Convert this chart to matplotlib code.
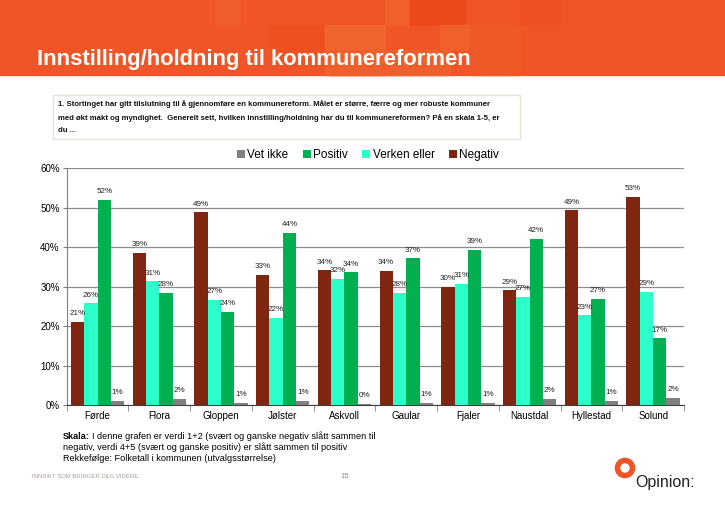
import matplotlib.pyplot as plt
import matplotlib.patches as mpatches
import numpy as np

# Données
kommuner = ["Førde", "Flora", "Gloppen", "Jølster", "Askvoll",
            "Gaular", "Fjaler", "Naustdal", "Hyllestad", "Solund"]
negativ = [21.0, 38.6, 48.8, 33.0, 34.1, 34.0, 30.0, 29.0, 49.3, 52.6]
verken = [25.7, 31.3, 26.7, 22.1, 32.0, 28.4, 30.6, 27.3, 22.7, 28.7]
positiv = [52.0, 28.4, 23.6, 43.6, 33.6, 37.1, 39.3, 42.1, 26.8, 16.9]
vet_ikke = [1.1, 1.6, 0.6, 1.1, 0.3, 0.6, 0.6, 1.6, 1.1, 1.8]
yticks = [0, 10, 20, 30, 40, 50, 60]

W, H = 725, 505
ORANGE = "#EF5526"


def fx(x):
    return x / W


def fy(y):
    return 1 - y / H


fig = plt.figure(figsize=(7.25, 5.05), dpi=100)
plt.rcParams['font.family'] = ['Liberation Sans', 'DejaVu Sans']

# Bandeau orange en haut
fig.patches.append(mpatches.Rectangle((0, fy(75)), 1, 75 / H, transform=fig.transFigure,
                                      color=ORANGE, zorder=0))
# quelques carrés décoratifs, discrets
carres = [(215, 0, 25, 25, "#F05D2C"), (270, 25, 55, 25, "#EE5022"), (325, 25, 60, 50, "#F1632F"),
          (385, 0, 30, 25, "#F1602C"), (410, 0, 55, 25, "#EC4A1D"), (440, 25, 30, 25, "#F0602B"),
          (470, 25, 50, 50, "#EF5928"), (520, 0, 40, 25, "#EE5224"), (330, 50, 120, 25, "#F0602C")]
for x0, y0, w, h, c in carres:
    fig.patches.append(mpatches.Rectangle((fx(x0), fy(y0 + h)), w / W, h / H,
                                          transform=fig.transFigure, color=c, zorder=0))

fig.text(fx(37), fy(60), "Innstilling/holdning til kommunereformen", color="white",
         fontsize=15.8, fontweight="bold", va="center", ha="left")

# Boîte de la question
fig.patches.append(mpatches.Rectangle((fx(53), fy(139)), (520 - 53) / W, (139 - 95) / H,
                                      transform=fig.transFigure, fill=False,
                                      edgecolor="#E3E3DA", lw=1))
question = ("1. Stortinget har gitt tilslutning til å gjennomføre en kommunereform. Målet er større, færre og mer robuste kommuner\n"
            "med økt makt og myndighet.  Generelt sett, hvilken innstilling/holdning har du til kommunereformen? På en skala 1-5, er\n"
            "du ...")
fig.text(fx(58), fy(100), question, fontsize=5.6, fontweight="bold", va="top", ha="left",
         linespacing=2.0, color="#111111")

# Graphique
ax = fig.add_axes([fx(66.7), fy(405), (684 - 66.7) / W, (405 - 168) / H])
x = np.arange(len(kommuner))
bw = 0.216
series = [(negativ, "Negativ", "#7F2610"),
          (verken, "Verken eller", "#2CFFCA"),
          (positiv, "Positiv", "#00B050"),
          (vet_ikke, "Vet ikke", "#808080")]
handles = {}
for i, (vals, nom, col) in enumerate(series):
    pos = x - 1.5 * bw + i * bw
    b = ax.bar(pos, vals, width=bw, color=col, label=nom, zorder=3)
    handles[nom] = b
    for p, v in zip(pos, vals):
        ax.text(p, v + 1.2, f"{v:.0f}%", ha="center", va="bottom", fontsize=5.8,
                color="#222222", zorder=4)

ax.set_xlim(-0.5, len(kommuner) - 0.5)
ax.set_ylim(0, 60)
ax.set_yticks(yticks)
ax.set_yticklabels([f"{t}%" for t in yticks], fontsize=7)
ax.set_xticks(x)
ax.set_xticklabels(kommuner, fontsize=7)
ax.tick_params(axis="x", length=0, pad=4)
ax.set_xticks(np.arange(-0.5, len(kommuner)), minor=True)
ax.tick_params(axis="x", which="minor", length=4, color="#808080", direction="out")
ax.tick_params(axis="y", length=3, color="#808080", pad=2)
ax.yaxis.grid(True, color="#8C8C8C", lw=0.9, zorder=0)
for s in ["top", "right"]:
    ax.spines[s].set_visible(False)
ax.spines["left"].set_color("#808080")
ax.spines["bottom"].set_color("#404040")

ordre = ["Vet ikke", "Positiv", "Verken eller", "Negativ"]
fig.legend([handles[n] for n in ordre], ordre, loc="center", ncol=4,
           bbox_to_anchor=(fx(368), fy(155)), frameon=False, fontsize=8.5,
           handlelength=0.7, handleheight=0.7, handletextpad=0.2, columnspacing=1.2)

# Notes du bas
t_skala = fig.text(fx(63), fy(439), "Skala:", fontsize=6.6, fontweight="bold", va="baseline")
renderer = fig.canvas.get_renderer()
x_fin = t_skala.get_window_extent(renderer).x1 / fig.bbox.width
fig.text(x_fin + 2 / W, fy(439), "I denne grafen er verdi 1+2 (svært og ganske negativ slått sammen til",
         fontsize=6.6, va="baseline")
fig.text(fx(63), fy(450), "negativ, verdi 4+5 (svært og ganske positiv) er slått sammen til positiv",
         fontsize=6.6, va="baseline")
fig.text(fx(63), fy(461), "Rekkefølge: Folketall i kommunen (utvalgsstørrelse)",
         fontsize=6.6, va="baseline")

fig.text(fx(32), fy(477), "INNSIKT SOM BRINGER DEG VIDERE", fontsize=4.3, color="#A89F98",
         va="center")
fig.text(fx(345), fy(477), "15", fontsize=5.5, color="#8A8A8A", va="center", ha="center")

# Logo Opinion
fig.patches.append(mpatches.Ellipse((fx(625), fy(468)), 15 / W, 15 / H,
                                    transform=fig.transFigure, fill=False,
                                    edgecolor=ORANGE, lw=4))
fig.text(fx(635), fy(482), "Opinion:", fontsize=11.5, color="#222222", va="center", ha="left")

fig.savefig("out.png", dpi=100)
